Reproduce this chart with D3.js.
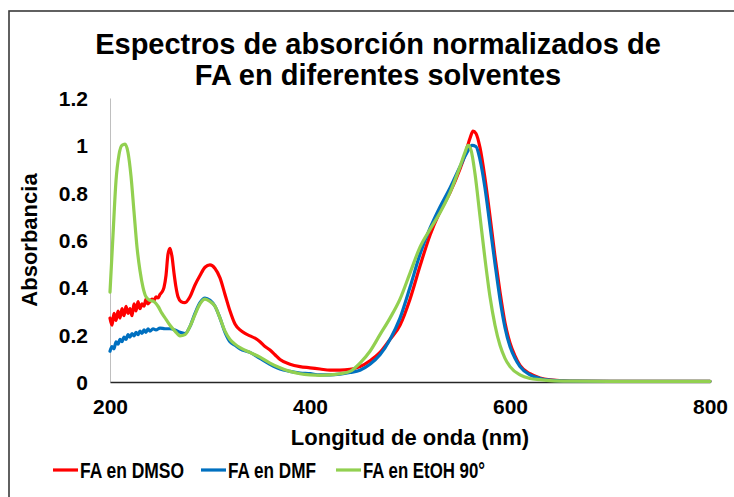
<!DOCTYPE html>
<html>
<head>
<meta charset="utf-8">
<script src="https://cdn.jsdelivr.net/npm/d3@7"></script>
<style>
  html, body { margin: 0; padding: 0; background: #fff; }
  svg { display: block; }
  text { font-family: "Liberation Sans", Arial, sans-serif; font-weight: bold; fill: #000; }
</style>
</head>
<body>
<svg id="chart" width="734" height="497"></svg>
<script>
// Normalised absorption spectra of FA in three solvents
const titleLines = ["Espectros de absorción normalizados de", "FA en diferentes solventes"];
const xTicks = [200, 400, 600, 800];
const yTicks = [0, 0.2, 0.4, 0.6, 0.8, 1, 1.2];
const seriesNames = ["FA en DMSO", "FA en DMF", "FA en EtOH 90°"];
const seriesColors = ["#ff0000", "#0070c0", "#92d050"];

// FA en DMSO
const dmsoNm  = [200,202,204,206,208,210,212,214,216,218,220,222,224,226,228,230,232,234,236,238,240,242,244,246,248,250,252,254,256,258,260,262,264,266,268,271,275,280,285,290,295,300,305,310,315,320,325,330,335,340,345,350,355,360,365,370,380,390,400,410,420,430,440,450,460,470,480,490,500,510,520,530,540,550,555,560,563,566,570,575,580,585,590,595,600,605,610,620,630,640,660,700,750,800];
const dmsoAbs = [0.27,0.24,0.29,0.26,0.30,0.27,0.31,0.28,0.32,0.29,0.31,0.28,0.33,0.30,0.34,0.31,0.33,0.32,0.35,0.33,0.34,0.35,0.345,0.36,0.355,0.37,0.38,0.40,0.45,0.54,0.565,0.53,0.46,0.40,0.36,0.34,0.335,0.36,0.41,0.45,0.485,0.495,0.48,0.44,0.37,0.30,0.245,0.22,0.205,0.195,0.185,0.17,0.15,0.135,0.115,0.095,0.075,0.065,0.06,0.055,0.05,0.05,0.053,0.065,0.09,0.125,0.18,0.24,0.35,0.49,0.62,0.72,0.80,0.90,0.96,1.03,1.06,1.05,0.99,0.86,0.70,0.53,0.38,0.25,0.165,0.11,0.07,0.035,0.017,0.009,0.004,0.003,0.003,0.003];

// FA en DMF
const dmfNm  = [200,202,204,206,208,210,212,214,216,218,220,222,224,226,228,230,232,234,236,238,240,243,246,250,255,260,265,270,275,280,285,290,295,300,305,310,315,320,325,330,340,350,360,370,380,390,400,410,420,430,440,450,460,470,480,490,500,510,520,530,540,550,557,562,566,570,575,580,585,590,595,600,605,610,620,630,640,660,700,750,800];
const dmfAbs = [0.13,0.15,0.14,0.17,0.16,0.18,0.17,0.19,0.18,0.20,0.19,0.205,0.195,0.21,0.20,0.215,0.205,0.22,0.21,0.225,0.215,0.225,0.22,0.228,0.225,0.225,0.22,0.21,0.205,0.235,0.29,0.335,0.355,0.345,0.32,0.27,0.21,0.17,0.155,0.14,0.125,0.10,0.075,0.055,0.045,0.038,0.035,0.03,0.03,0.033,0.04,0.05,0.075,0.115,0.18,0.27,0.40,0.54,0.65,0.74,0.82,0.91,0.97,1.0,0.995,0.94,0.82,0.66,0.50,0.35,0.23,0.15,0.10,0.065,0.03,0.015,0.008,0.004,0.003,0.003,0.003];

// FA en EtOH 90°
const etohNm  = [200,203,206,209,212,215,218,221,224,227,230,233,236,240,244,248,252,256,260,265,270,275,280,285,290,295,300,305,310,315,320,325,330,340,350,360,370,380,390,400,410,420,430,440,450,460,470,480,490,500,510,520,530,540,550,555,558,561,565,570,575,580,585,590,595,600,610,620,630,640,660,700,750,800];
const etohAbs = [0.38,0.62,0.85,0.96,1.0,1.005,0.97,0.87,0.72,0.57,0.47,0.40,0.36,0.345,0.34,0.32,0.29,0.265,0.24,0.215,0.195,0.2,0.235,0.285,0.33,0.35,0.34,0.32,0.27,0.215,0.18,0.16,0.145,0.125,0.105,0.08,0.06,0.045,0.035,0.03,0.028,0.03,0.035,0.045,0.08,0.13,0.2,0.27,0.35,0.46,0.57,0.645,0.715,0.80,0.91,0.97,1.0,0.98,0.88,0.70,0.52,0.36,0.24,0.155,0.10,0.065,0.03,0.015,0.01,0.006,0.004,0.003,0.003,0.003];

const series = [
  { name: seriesNames[0], color: seriesColors[0], nm: dmsoNm, abs: dmsoAbs },
  { name: seriesNames[1], color: seriesColors[1], nm: dmfNm,  abs: dmfAbs },
  { name: seriesNames[2], color: seriesColors[2], nm: etohNm, abs: etohAbs }
];

const svg = d3.select("#chart");
const plot = { left: 110, right: 710, top: 98, bottom: 382 };

// outer chart frame
svg.append("rect")
  .attr("x", 9).attr("y", 11).attr("width", 800).attr("height", 600)
  .attr("fill", "none").attr("stroke", "#3a3a3a").attr("stroke-width", 1.6);

const x = d3.scaleLinear().domain([200, 800]).range([plot.left, plot.right]);
const y = d3.scaleLinear().domain([0, 1.2]).range([plot.bottom, plot.top]);

// title
svg.append("text")
  .attr("x", 378).attr("y", 0)
  .attr("text-anchor", "middle")
  .style("font-size", "29px")
  .selectAll("tspan").data(titleLines).join("tspan")
  .attr("x", 378).attr("y", (d, i) => 54 + i * 31)
  .text(d => d);

// y axis
const yAxis = svg.append("g")
  .attr("transform", `translate(${plot.left},0)`)
  .call(d3.axisLeft(y).tickValues(yTicks).tickSize(0).tickPadding(22).tickFormat(d => String(d)));
yAxis.select(".domain").attr("stroke", "#bfbfbf").attr("stroke-width", 1);
yAxis.selectAll("text").style("font-size", "21px").style("font-family", "Liberation Sans, Arial, sans-serif").attr("dy", "0.35em");

// x axis
const xAxis = svg.append("g")
  .attr("transform", `translate(0,${plot.bottom})`)
  .call(d3.axisBottom(x).tickValues(xTicks).tickSize(0).tickPadding(17).tickFormat(d3.format("d")));
xAxis.select(".domain").attr("stroke", "#262626").attr("stroke-width", 1.6);
xAxis.selectAll("text").style("font-size", "21px").style("font-family", "Liberation Sans, Arial, sans-serif");

// axis titles
svg.append("text")
  .attr("x", 410).attr("y", 445)
  .attr("text-anchor", "middle")
  .style("font-size", "22px")
  .text("Longitud de onda (nm)");

svg.append("text")
  .attr("transform", "translate(37,240) rotate(-90)")
  .attr("text-anchor", "middle")
  .style("font-size", "22px")
  .text("Absorbancia");

// spectra
const line = d3.line()
  .x(d => x(d[0]))
  .y(d => y(d[1]))
  .curve(d3.curveMonotoneX);

svg.append("g").selectAll("path").data(series).join("path")
  .attr("d", s => line(s.nm.map((n, i) => [n, s.abs[i]])))
  .attr("fill", "none")
  .attr("stroke", s => s.color)
  .attr("stroke-width", 3.2)
  .attr("stroke-linejoin", "round")
  .attr("stroke-linecap", "round");

// legend
const legendX = [53, 201, 336];
const legendTextWidth = [104, 88, 122];
const legend = svg.append("g").selectAll("g").data(series).join("g")
  .attr("transform", (d, i) => `translate(${legendX[i]},470)`);
legend.append("line")
  .attr("x1", 0).attr("x2", 25).attr("y1", 0).attr("y2", 0)
  .attr("stroke", d => d.color).attr("stroke-width", 3.2);
legend.append("text")
  .attr("x", 27).attr("y", 0).attr("dy", "0.36em")
  .attr("textLength", (d, i) => legendTextWidth[i])
  .attr("lengthAdjust", "spacingAndGlyphs")
  .style("font-size", "22px")
  .text(d => d.name);
</script>
</body>
</html>
